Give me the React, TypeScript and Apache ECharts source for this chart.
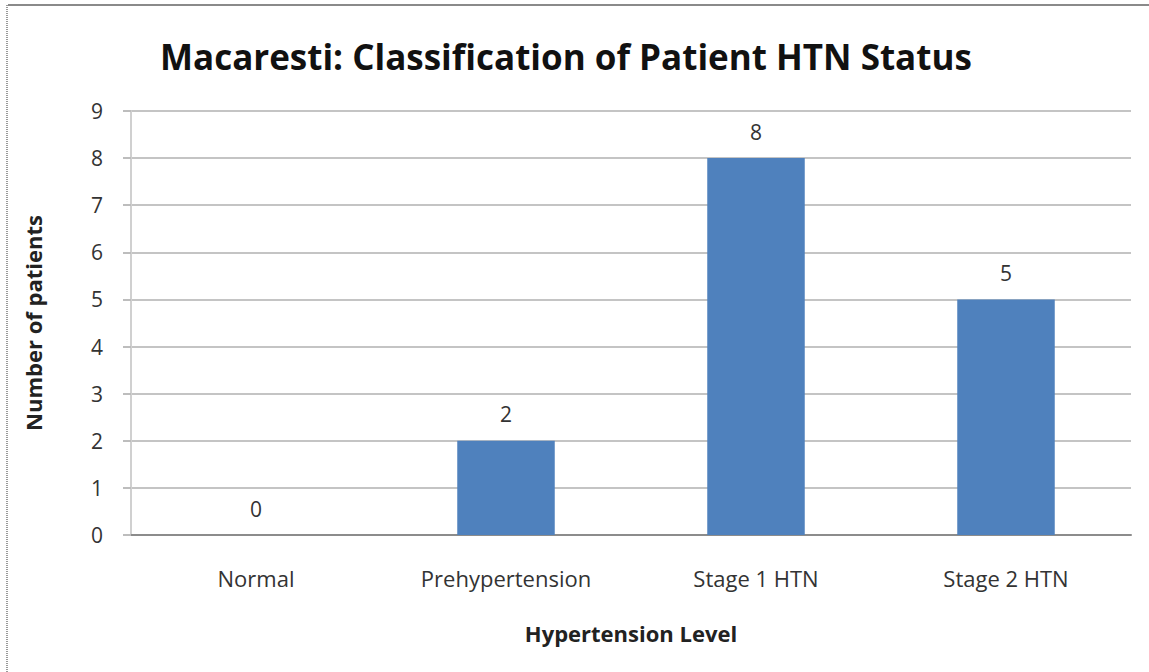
import React, { useEffect, useRef } from "react";
import * as echarts from "echarts";

const categories = ["Normal", "Prehypertension", "Stage 1 HTN", "Stage 2 HTN"];
const patients = [0, 2, 8, 5];
const titleText = "Macaresti: Classification of Patient HTN Status";
const xName = "Hypertension Level";
const yName = "Number of patients";

const FONT = "'Open Sans', 'Noto Sans', sans-serif";

export default function App() {
  const ref = useRef<HTMLDivElement>(null);
  useEffect(() => {
    if (!ref.current) return;
    const chart = echarts.init(ref.current, null, { renderer: "svg" });
    chart.setOption({
      animation: false,
      backgroundColor: "#ffffff",
      title: {
        text: titleText,
        left: 155,
        top: 34,
        textStyle: { fontFamily: FONT, fontSize: 35, fontWeight: "bold", color: "#111" },
      },
      graphic: [
        { type: "line", shape: { x1: 8, y1: 5, x2: 1149, y2: 5 }, style: { stroke: "#8a8a8a", lineWidth: 2 } },
        { type: "line", shape: { x1: 7, y1: 5, x2: 7, y2: 672 }, style: { stroke: "#9a9a9a", lineWidth: 2, lineDash: [1, 1] } },
      ],
      grid: { left: 131, right: 18, top: 111, bottom: 137 },
      xAxis: {
        type: "category",
        data: categories,
        name: xName,
        nameLocation: "middle",
        nameGap: 87,
        nameTextStyle: { fontFamily: FONT, fontSize: 22, fontWeight: "bold", color: "#222" },
        axisLine: { lineStyle: { color: "#8c8c8c", width: 2 } },
        axisTick: { show: false },
        axisLabel: { fontFamily: FONT, fontSize: 22, color: "#333", margin: 32 },
      },
      yAxis: {
        type: "value",
        min: 0,
        max: 9,
        interval: 1,
        name: yName,
        nameLocation: "middle",
        nameGap: 87,
        nameRotate: 90,
        nameTextStyle: { fontFamily: FONT, fontSize: 22, fontWeight: "bold", color: "#222" },
        axisLine: { show: true, lineStyle: { color: "#d0d0d0", width: 2 } },
        axisTick: { show: true, length: 8, lineStyle: { color: "#bdbdbd", width: 2 } },
        axisLabel: { fontFamily: FONT, fontSize: 21, color: "#333", margin: 28 },
        splitLine: { lineStyle: { color: "#c4c4c4", width: 2 } },
      },
      series: [
        {
          type: "bar",
          data: patients,
          barWidth: "39%",
          itemStyle: { color: "#4f81bd" },
          label: {
            show: true,
            position: "top",
            distance: 16,
            fontFamily: FONT,
            fontSize: 21,
            color: "#333",
          },
        },
      ],
    });
    return () => chart.dispose();
  }, []);
  return (
    <div
      ref={ref}
      style={{ position: "absolute", left: 0, top: 0, width: 1149, height: 672 }}
    />
  );
}
